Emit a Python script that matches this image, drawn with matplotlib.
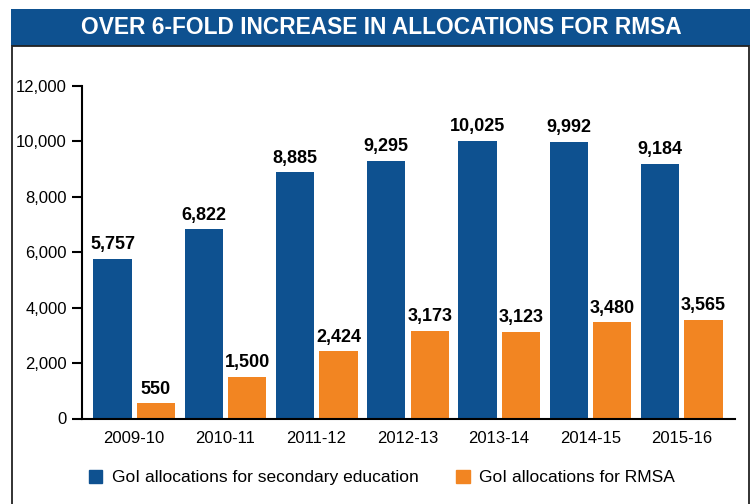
import matplotlib
matplotlib.use("Agg")
import matplotlib.pyplot as plt
from matplotlib.patches import Rectangle, Patch
from matplotlib.ticker import FuncFormatter
import numpy as np

# data
years = ["2009-10", "2010-11", "2011-12", "2012-13", "2013-14", "2014-15", "2015-16"]
secondary = [5757, 6822, 8885, 9295, 10025, 9992, 9184]
rmsa = [550, 1500, 2424, 3173, 3123, 3480, 3565]
labels = ["GoI allocations for secondary education", "GoI allocations for RMSA"]
title = "OVER 6-FOLD INCREASE IN ALLOCATIONS FOR RMSA"

BLUE = "#0e5190"
ORANGE = "#f28522"
plt.rcParams["font.family"] = ["Liberation Sans", "DejaVu Sans"]

W, H = 755, 504
fig = plt.figure(figsize=(W / 100, H / 100), dpi=100)

# banner + frame
fig.patches.append(Rectangle((11 / W, 1 - 46 / H), 739 / W, 37 / H, transform=fig.transFigure,
                             facecolor=BLUE, edgecolor="none", zorder=0))
fig.patches.append(Rectangle((12 / W, -0.05), 737 / W, 0.05 + 1 - 46 / H, transform=fig.transFigure,
                             facecolor="none", edgecolor="#222222", linewidth=1.3, zorder=0))
t = fig.text(381 / W, 1 - 28 / H, title, color="white", fontsize=20, fontweight="bold",
             ha="center", va="center")
# fit title to the banner text width of the original (~603 px)
r = fig.canvas.get_renderer()
tw = t.get_window_extent(r).width
t.set_fontsize(20 * 603 / tw)

ax = fig.add_axes([82 / W, 1 - 418.5 / H, 653 / W, 332.5 / H])
x = np.arange(len(years))
w = 0.42
ax.bar(x - 0.236, secondary, w, color=BLUE)
ax.bar(x + 0.24, rmsa, w, color=ORANGE)

for xi, v in zip(x, secondary):
    ax.annotate(f"{v:,}", (xi - 0.236, v), xytext=(0, 4), textcoords="offset points",
                ha="center", va="bottom", fontsize=13, fontweight="bold")
for xi, v in zip(x, rmsa):
    ax.annotate(f"{v:,}", (xi + 0.24, v), xytext=(0, 4), textcoords="offset points",
                ha="center", va="bottom", fontsize=13, fontweight="bold")

ax.set_xlim(-0.57, 6.586)
ax.set_ylim(0, 12000)
ax.set_yticks(np.arange(0, 12001, 2000))
ax.yaxis.set_major_formatter(FuncFormatter(lambda v, p: f"{int(v):,}"))
ax.set_xticks(x)
ax.set_xticklabels(years)
ax.tick_params(axis="y", length=7, width=1.5, labelsize=12, pad=4)
ax.tick_params(axis="x", length=0, labelsize=12, pad=9)
for s in ["top", "right"]:
    ax.spines[s].set_visible(False)
for s in ["left", "bottom"]:
    ax.spines[s].set_linewidth(1.5)

handles = [Patch(color=BLUE), Patch(color=ORANGE)]
fig.legend(handles, labels, loc="upper left", bbox_to_anchor=(73 / W, 1 - 454 / H), ncol=2,
           frameon=False, fontsize=12.5, handlelength=0.75, handleheight=0.8,
           handletextpad=0.57, columnspacing=2.2)

fig.savefig("out.png", dpi=100)
